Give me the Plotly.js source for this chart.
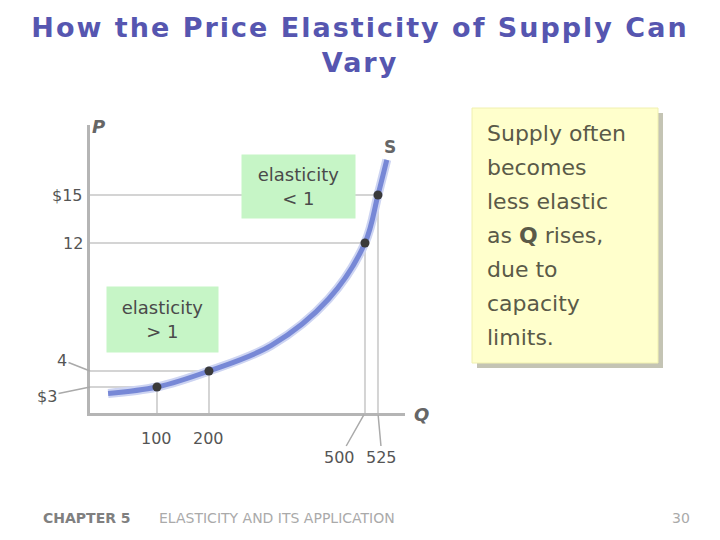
<!DOCTYPE html>
<html>
<head>
<meta charset="utf-8">
<script src="https://cdn.plot.ly/plotly-3.0.1.min.js"></script>
<style>
  html, body { margin: 0; padding: 0; background: #ffffff; }
  #chart { width: 720px; height: 540px; }
  .gtitle { letter-spacing: 2px; }
</style>
</head>
<body>
<div id="chart"></div>
<script>
// ---- data ----
var titleText = "How the Price Elasticity of Supply Can<br>Vary";
var pointQ = [100, 200, 500, 525];
var pointP = [3, 4, 12, 15];
// supply curve S
var curveQ = [6, 100, 200, 320, 430, 500, 525, 542];
var curveP = [2.6, 3, 4, 5.6, 8.5, 12, 15, 17.2];
var qLabels = ["100", "200", "500", "525"];
var pLabels = ["$3", "4", "12", "$15"];
var elasticLow = "elasticity<br>&lt; 1";
var elasticHigh = "elasticity<br>&gt; 1";
var noteLines = ["Supply often", "becomes", "less elastic", "as <b>Q</b> rises,", "due to", "capacity", "limits."];
var footerChapter = "CHAPTER 5";
var footerTopic = "ELASTICITY AND ITS APPLICATION";
var pageNumber = "30";

// ---- layout helpers ----
var plotL = 90, plotR = 405, plotT = 125, plotB = 413;
var xRange = [-28.8, 577];
var yRange = [1.375, 19.375];
function px2paperX(px) { return (px - plotL) / (plotR - plotL); }
function py2paperY(py) { return (plotB - py) / (plotB - plotT); }

var font = "DejaVu Sans, Verdana, sans-serif";
var labelColor = "#555555";
var guideColor = "#d4d4d4";

var traces = [
  { x: curveQ, y: curveP, mode: "lines", line: { shape: "spline", smoothing: 1.0, color: "#cdd4f2", width: 9 }, hoverinfo: "skip" },
  { x: curveQ, y: curveP, mode: "lines", line: { shape: "spline", smoothing: 1.0, color: "#7788d6", width: 5 }, hoverinfo: "skip" },
  { x: pointQ, y: pointP, mode: "markers", marker: { size: 9, color: "#3a3a3a" }, cliponaxis: false, hoverinfo: "skip" }
];

var shapes = [];
for (var i = 0; i < pointQ.length; i++) {
  shapes.push({ type: "line", xref: "x", yref: "y", x0: xRange[0], x1: pointQ[i], y0: pointP[i], y1: pointP[i], line: { color: guideColor, width: 2 }, layer: "below" });
  shapes.push({ type: "line", xref: "x", yref: "y", x0: pointQ[i], x1: pointQ[i], y0: yRange[0], y1: pointP[i], line: { color: guideColor, width: 2 }, layer: "below" });
}
shapes.push({ type: "rect", xref: "paper", yref: "paper", x0: px2paperX(477), x1: px2paperX(663), y0: py2paperY(113), y1: py2paperY(368), fillcolor: "#c4c4b4", line: { width: 0 } });
shapes.push({ type: "rect", xref: "paper", yref: "paper", x0: px2paperX(472), x1: px2paperX(658), y0: py2paperY(108), y1: py2paperY(363), fillcolor: "#ffffcc", line: { color: "#f0f0b0", width: 1 } });

var annotations = [];
var pOffsets = [[-43, 9], [-28, -11], [0, 0], [0, 0]];
for (var j = 0; j < pointP.length; j++) {
  var off = pOffsets[j];
  if (off[0] === 0) {
    annotations.push({ xref: "paper", yref: "y", x: 0, y: pointP[j], text: pLabels[j], showarrow: false, xanchor: "right", yanchor: "middle", xshift: -5, font: { family: font, size: 16, color: labelColor } });
  } else {
    annotations.push({ xref: "paper", yref: "y", x: 0, y: pointP[j], text: pLabels[j], showarrow: true, arrowhead: 0, arrowwidth: 1.5, arrowcolor: "#aaaaaa", ax: off[0], ay: off[1], standoff: 0, font: { family: font, size: 16, color: labelColor } });
  }
}
var qOffsets = [[0, 0], [0, 0], [-25, 44], [4, 44]];
for (var k = 0; k < pointQ.length; k++) {
  var qo = qOffsets[k];
  if (qo[1] === 0) {
    annotations.push({ xref: "x", yref: "paper", x: pointQ[k], y: 0, text: qLabels[k], showarrow: false, xanchor: "center", yanchor: "top", yshift: -14, font: { family: font, size: 16, color: labelColor } });
  } else {
    annotations.push({ xref: "x", yref: "paper", x: pointQ[k], y: 0, text: qLabels[k], showarrow: true, arrowhead: 0, arrowwidth: 1.5, arrowcolor: "#aaaaaa", ax: qo[0], ay: qo[1], standoff: 2, font: { family: font, size: 16, color: labelColor } });
  }
}
function note(px, py, text, size, color, anchor) {
  annotations.push({ xref: "paper", yref: "paper", x: px2paperX(px), y: py2paperY(py), text: text, showarrow: false, xanchor: anchor || "center", yanchor: "middle", font: { family: font, size: size, color: color } });
}
note(98, 126, "<b><i>P</i></b>", 18, "#666666");
note(421, 414, "<b><i>Q</i></b>", 18, "#666666");
note(390, 147, "<b>S</b>", 17, "#666666");

annotations.push({ xref: "paper", yref: "paper", x: px2paperX(298.5), y: py2paperY(186.5), xanchor: "center", yanchor: "middle", text: elasticLow, showarrow: false, bgcolor: "#c6f5c6", width: 107, height: 57, borderpad: 3, font: { family: font, size: 18, color: "#4a4a4a" } });
annotations.push({ xref: "paper", yref: "paper", x: px2paperX(162.5), y: py2paperY(319.5), xanchor: "center", yanchor: "middle", text: elasticHigh, showarrow: false, bgcolor: "#c6f5c6", width: 105, height: 59, borderpad: 3, font: { family: font, size: 18, color: "#4a4a4a" } });

for (var n = 0; n < noteLines.length; n++) {
  note(485, 133 + 34 * n, noteLines[n], 22, "#5a5a48", "left");
}
note(41, 518, "<b>" + footerChapter + "</b>", 14, "#808080", "left");
note(157, 518, footerTopic, 14, "#aaaaaa", "left");
note(681, 518, pageNumber, 14, "#aaaaaa");

var layout = {
  width: 720, height: 540,
  paper_bgcolor: "#ffffff", plot_bgcolor: "rgba(0,0,0,0)",
  showlegend: false,
  margin: { l: plotL, r: 720 - plotR, t: plotT, b: 540 - plotB, pad: 0 },
  title: { text: "<b>" + titleText + "</b>", x: 0.5, xanchor: "center", xref: "container", y: 0.932, yanchor: "top", yref: "container", font: { family: font, size: 27, color: "#5656b0" } },
  xaxis: { range: xRange, showline: true, linecolor: "#b5b5b5", linewidth: 3, showgrid: false, zeroline: false, showticklabels: false, ticks: "", fixedrange: true },
  yaxis: { range: yRange, showline: true, linecolor: "#b5b5b5", linewidth: 3, showgrid: false, zeroline: false, showticklabels: false, ticks: "", fixedrange: true },
  shapes: shapes,
  annotations: annotations
};

Plotly.newPlot("chart", traces, layout, { staticPlot: true, displayModeBar: false });
</script>
</body>
</html>
